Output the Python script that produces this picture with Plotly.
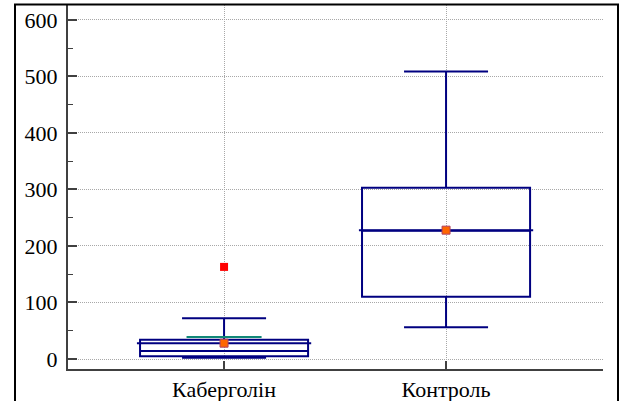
import plotly.graph_objects as go

categories = ["Каберголін", "Контроль"]
q1 = [5, 110]
median = [14, 227]
q3 = [34, 303]
lower_fence = [2, 56]
upper_fence = [72, 509]
means = [28, 228]
outliers = [[163], []]
ci_upper = [39, None]
y_ticks = [0, 100, 200, 300, 400, 500, 600]

NAVY = "#000080"
BOX_W = 0.757
xs = list(range(len(categories)))

fig = go.Figure()

for i, c in enumerate(categories):
    fig.add_trace(go.Box(
        x=[i], q1=[q1[i]], median=[median[i]], q3=[q3[i]],
        lowerfence=[lower_fence[i]], upperfence=[upper_fence[i]],
        width=BOX_W, whiskerwidth=0.5,
        line=dict(color=NAVY, width=2), fillcolor="rgba(0,0,0,0)",
        boxpoints=False, showlegend=False, name=c, hoverinfo="skip",
    ))
    hw = BOX_W / 2 + 0.014
    fig.add_trace(go.Scatter(
        x=[i - hw, i + hw], y=[means[i], means[i]], mode="lines",
        line=dict(color=NAVY, width=2), showlegend=False, hoverinfo="skip"))
    if ci_upper[i] is not None:
        fig.add_trace(go.Scatter(
            x=[i - 0.169, i + 0.169], y=[ci_upper[i], ci_upper[i]], mode="lines",
            line=dict(color="#108878", width=2), showlegend=False, hoverinfo="skip"))

ox, oy = [], []
for i, vals in enumerate(outliers):
    for v in vals:
        ox.append(i)
        oy.append(v)
fig.add_trace(go.Scatter(
    x=ox, y=oy, mode="markers",
    marker=dict(symbol="square", size=8, color="#FF0000", line=dict(width=0)),
    showlegend=False, hoverinfo="skip"))

fig.add_trace(go.Scatter(
    x=xs, y=means, mode="markers",
    marker=dict(symbol="square", size=8, color="#FF6600",
                line=dict(color="#B04060", width=1)),
    showlegend=False, hoverinfo="skip"))

fig.add_shape(type="rect", xref="paper", yref="paper",
              x0=(15 - 68) / 535, x1=(618 - 68) / 535,
              y0=-0.3, y1=(369 - 4.5) / 364,
              line=dict(color="black", width=2), layer="above")

SERIF = "Liberation Serif"

fig.update_layout(
    width=624, height=401,
    margin=dict(l=68, r=21, t=5, b=32),
    paper_bgcolor="white", plot_bgcolor="white",
    font=dict(family=SERIF, size=20, color="black"),
    xaxis=dict(
        range=[-0.703, 1.707], tickvals=xs, ticktext=categories,
        tickfont=dict(family=SERIF, size=22, color="black"),
        showline=True, linecolor="#404040", linewidth=2,
        ticks="inside", ticklen=8, tickcolor="#404040", tickwidth=2,
        showgrid=True, gridcolor="#a8a8a8", griddash="1px,1px", gridwidth=1,
        zeroline=False, fixedrange=True, automargin=False,
    ),
    yaxis=dict(
        range=[-17.7, 626.5], tickvals=y_ticks,
        tickfont=dict(family=SERIF, size=22, color="black"),
        ticklabelstandoff=4,
        showline=True, linecolor="#404040", linewidth=2,
        ticks="inside", ticklen=9, tickcolor="#404040", tickwidth=2,
        minor=dict(ticks="inside", ticklen=5, dtick=50, tickcolor="#404040",
                   tickwidth=1, showgrid=False),
        showgrid=True, gridcolor="#a8a8a8", griddash="1px,1px", gridwidth=1,
        zeroline=False, fixedrange=True, automargin=False,
    ),
)

fig.write_html("out.html", config={"displayModeBar": False},
               post_script="document.body.style.margin='0px';document.body.style.padding='0px';")
